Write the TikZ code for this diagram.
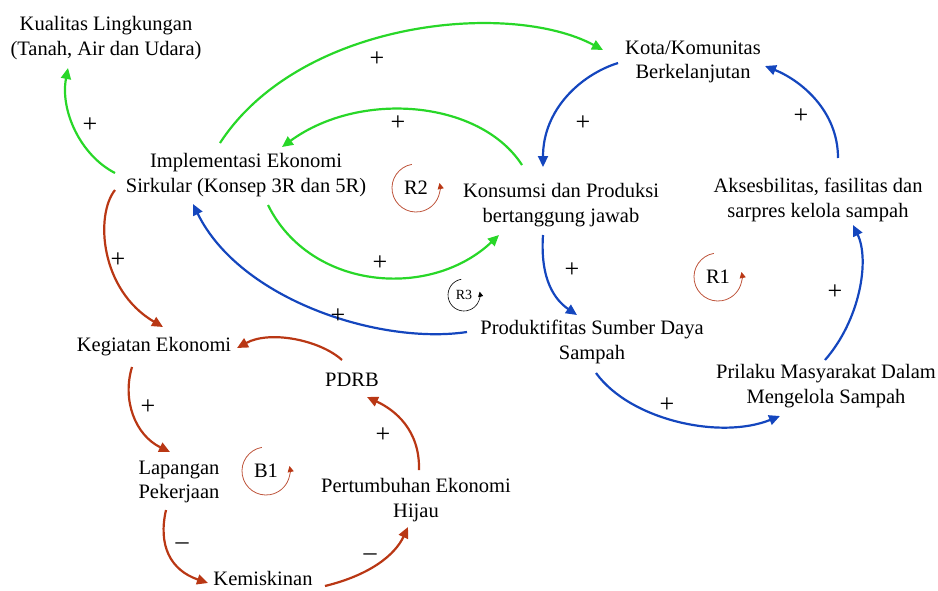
\documentclass[tikz,border=0pt]{standalone}
\usepackage{fontspec}
\setmainfont{Liberation Serif}
\usetikzlibrary{arrows.meta,calc}
\definecolor{cgreen}{RGB}{40,215,40}
\definecolor{cblue}{RGB}{20,70,190}
\definecolor{cred}{RGB}{185,55,20}
\definecolor{cloop}{RGB}{190,85,60}
\tikzset{
  lbl/.style={align=center,inner sep=0pt,font=\fontsize{20.5}{24.5}\selectfont},
  sign/.style={inner sep=0pt,font=\fontsize{26}{28}\selectfont},
  conn/.style={line width=2.2pt,-{Triangle[length=11pt,width=10pt]}},
  gconn/.style={conn,draw=cgreen},
  bconn/.style={conn,draw=cblue},
  rconn/.style={conn,draw=cred},
  loopc/.style={draw=cloop,line width=0.8pt,-{Triangle[length=6pt,width=6pt,color=cred]}},
  loopk/.style={draw=black,line width=0.6pt,-{Triangle[length=5pt,width=5pt]}},
}
\begin{document}
\begin{tikzpicture}[x=1pt,y=-1pt]
\useasboundingbox (0,0) rectangle (938,590);
% nodes
\node[lbl] (kual) at (106,38) {Kualitas Lingkungan\\(Tanah, Air dan Udara)};
\node[lbl] (impl) at (246,175) {Implementasi Ekonomi\\Sirkular (Konsep 3R dan 5R)};
\node[lbl] (kota) at (693,62) {Kota/Komunitas\\Berkelanjutan};
\node[lbl] (kons) at (561,205) {Konsumsi dan Produksi\\bertanggung jawab};
\node[lbl] (akses) at (818,200) {Aksesbilitas, fasilitas dan\\sarpres kelola sampah};
\node[lbl] (kegi) at (154,347) {Kegiatan Ekonomi};
\node[lbl] (pdrb) at (352,380) {PDRB};
\node[lbl] (lap) at (179,482) {Lapangan\\Pekerjaan};
\node[lbl] (pert) at (416,500) {Pertumbuhan Ekonomi\\Hijau};
\node[lbl] (kemi) at (263,578) {Kemiskinan};
\node[lbl] (prod) at (592,342) {Produktifitas Sumber Daya\\Sampah};
\node[lbl] (pril) at (826,386) {Prilaku Masyarakat Dalam\\Mengelola Sampah};
% loop markers
\node[lbl] (r2) at (416,188) {R2};
\draw[loopc] ($(r2)+(-100:24)$) arc[start angle=-100,end angle=-372,radius=24];
\node[lbl] (r1) at (718,277) {R1};
\draw[loopc] ($(r1)+(-100:24)$) arc[start angle=-100,end angle=-372,radius=24];
\node[lbl] (b1) at (266,471) {B1};
\draw[loopc] ($(b1)+(-100:24)$) arc[start angle=-100,end angle=-372,radius=24];
\node[inner sep=0pt,font=\fontsize{14}{16}\selectfont] (r3) at (464,295) {R3};
\draw[loopk] ($(r3)+(-100:16)$) arc[start angle=-100,end angle=-372,radius=16];
% green connectors
\draw[gconn] ($(impl)+(-131,-2)$) .. controls (80,155) and (60,110) .. ($(kual)+(-38,30)$);
\draw[gconn] ($(impl)+(-26,-32)$) .. controls (300,20) and (510,0) .. ($(kota)+(-90,-12)$);
\draw[gconn] ($(kons)+(-39,-40)$) .. controls (480,100) and (360,90) .. ($(impl)+(36,-28)$);
\draw[gconn] ($(impl)+(22,30)$) .. controls (310,290) and (430,300) .. ($(kons)+(-62,30)$);
% blue connectors
\draw[bconn] ($(kota)+(-75,1)$) .. controls (580,75) and (543,110) .. ($(kons)+(-18,-38)$);
\draw[bconn] ($(akses)+(20,-42)$) .. controls (838,110) and (800,80) .. ($(kota)+(72,4)$);
\draw[bconn] ($(kons)+(-18,30)$) .. controls (540,280) and (555,300) .. ($(prod)+(-15,-27)$);
\draw[bconn] ($(pril)+(-1,-26)$) .. controls (860,320) and (870,260) .. ($(akses)+(35,25)$);
\draw[bconn] ($(prod)+(4,31)$) .. controls (630,420) and (720,440) .. ($(pril)+(-46,30)$);
\draw[bconn] ($(prod)+(-125,-10)$) .. controls (380,345) and (240,300) .. ($(impl)+(-53,29)$);
% red connectors
\draw[rconn] ($(impl)+(-131,15)$) .. controls (95,215) and (100,290) .. ($(kegi)+(9,-20)$);
\draw[rconn] ($(pdrb)+(-10,-20)$) .. controls (320,340) and (270,330) .. ($(kegi)+(83,1)$);
\draw[rconn] ($(kegi)+(-22,20)$) .. controls (122,400) and (135,435) .. ($(lap)+(-9,-30)$);
\draw[rconn] ($(lap)+(-13,28)$) .. controls (158,545) and (170,570) .. ($(kemi)+(-55,5)$);
\draw[rconn] ($(kemi)+(62,8)$) .. controls (370,575) and (395,555) .. ($(pert)+(-8,27)$);
\draw[rconn] ($(pert)+(3,-30)$) .. controls (420,430) and (395,410) .. ($(pdrb)+(15,17)$);
% signs
\node[sign] (s1) at (90,125) {+};
\node[sign] (s2) at (377,59) {+};
\node[sign] (s3) at (398,123) {+};
\node[sign] (s4) at (380,263) {+};
\node[sign] (s5) at (583,123) {+};
\node[sign] (s6) at (801,116) {+};
\node[sign] (s7) at (572,270) {+};
\node[sign] (s8) at (835,292) {+};
\node[sign] (s9) at (667,405) {+};
\node[sign] (s10) at (338,316) {+};
\node[sign] (s11) at (118,260) {+};
\node[sign] (s12) at (148,407) {+};
\node[sign] (s13) at (182,546) {--};
\node[sign] (s14) at (370,557) {--};
\node[sign] (s15) at (383,435) {+};
\end{tikzpicture}
\end{document}
